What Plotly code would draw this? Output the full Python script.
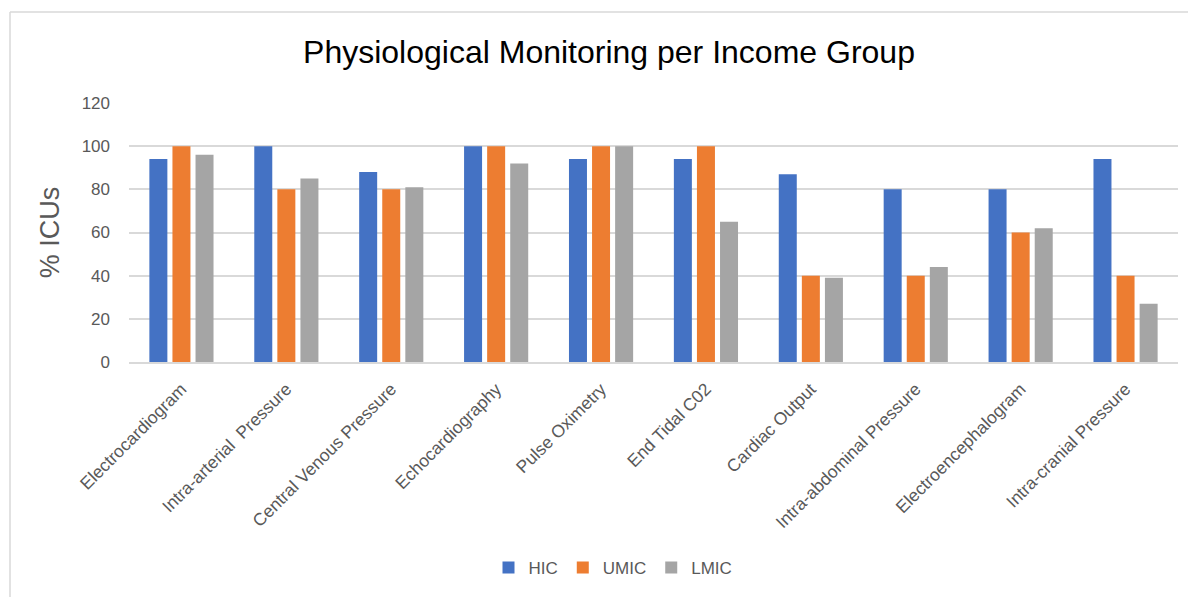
import plotly.graph_objects as go

categories = ["Electrocardiogram", "Intra-arterial  Pressure", "Central Venous Pressure",
              "Echocardiography", "Pulse Oximetry", "End Tidal C02", "Cardiac Output",
              "Intra-abdominal Pressure", "Electroencephalogram", "Intra-cranial Pressure"]
hic = [94, 100, 88, 100, 94, 94, 87, 80, 80, 94]
umic = [100, 80, 80, 100, 100, 100, 40, 40, 60, 40]
lmic = [96, 85, 81, 92, 100, 65, 39, 44, 62, 27]
y_ticks = [0, 20, 40, 60, 80, 100, 120]

series = [("HIC", hic, "#4472C4"), ("UMIC", umic, "#ED7D31"), ("LMIC", lmic, "#A5A5A5")]

font_family = "Liberation Sans, Arial"

fig = go.Figure()
for name, vals, col in series:
    fig.add_trace(go.Bar(x=categories, y=vals, name=name, marker=dict(color=col, line=dict(width=0))))

# the page has an 8px body margin, so the figure is sized/positioned relative to that
OFF = 8
W, H = 1196 - OFF, 597 - OFF
L, R, T, B = 129 - OFF, 18, 103 - OFF, 235
pw, ph = W - L - R, H - T - B


def px(x):
    return (x - OFF - L) / pw


def py(y):
    return (H - B - (y - OFF)) / ph


fig.update_layout(
    width=W, height=H,
    margin=dict(l=L, r=R, t=T, b=B, autoexpand=False),
    paper_bgcolor="white", plot_bgcolor="white",
    barmode="group", bargap=0.34, bargroupgap=0.22,
    title=dict(text="Physiological Monitoring per Income Group", x=(609 - OFF) / W, xanchor="center",
               y=1 - (52 - OFF) / H, yanchor="middle", font=dict(family=font_family, size=32, color="#000000")),
    xaxis=dict(tickangle=-45, tickfont=dict(family=font_family, size=17.5, color="#595959"),
               showgrid=False, showline=True, linecolor="#D9D9D9", linewidth=2, ticks="",
               ticklabelstandoff=8),
    yaxis=dict(range=[0, 120], tickvals=y_ticks, tickfont=dict(family=font_family, size=17, color="#595959"),
               showgrid=True, gridcolor="#D9D9D9", gridwidth=2, zeroline=False, showline=False,
               ticks="", ticklabelstandoff=18,
               title=dict(text="% ICUs", standoff=14, font=dict(family=font_family, size=27, color="#595959"))),
    legend=dict(orientation="h", x=px(613), xanchor="center", y=py(568), yanchor="middle",
                font=dict(family=font_family, size=17, color="#595959"), itemwidth=30),
    showlegend=True,
    shapes=[
        dict(type="line", xref="paper", yref="paper", x0=px(10), x1=px(1210), y0=py(12), y1=py(12),
             line=dict(color="#D9D9D9", width=1.5)),
        dict(type="line", xref="paper", yref="paper", x0=px(10), x1=px(10), y0=py(12), y1=py(610),
             line=dict(color="#D9D9D9", width=1.5)),
    ],
)

fig.write_html("out.html")
